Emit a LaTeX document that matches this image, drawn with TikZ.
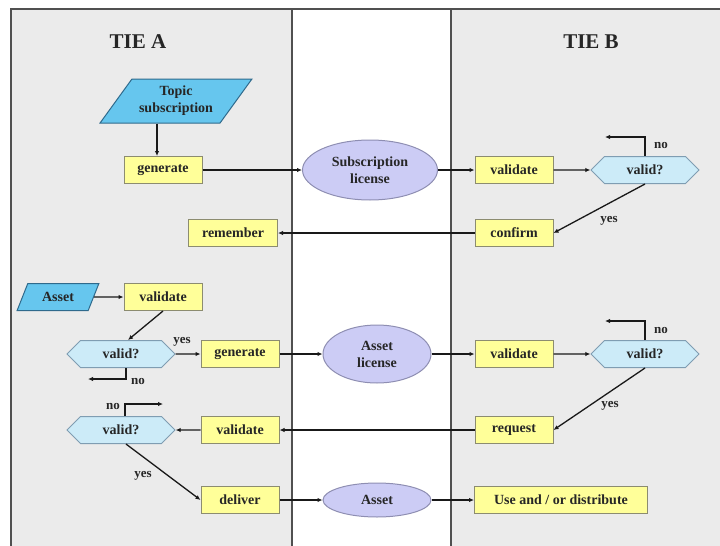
\documentclass[tikz,border=0pt]{standalone}
\usepackage{fontspec}
\setmainfont{Liberation Serif}
\usetikzlibrary{shapes.geometric,shapes.symbols,arrows.meta}
\definecolor{lanebg}{HTML}{EBEBEB}
\definecolor{laneline}{HTML}{505050}
\definecolor{boxfill}{HTML}{FFFF99}
\definecolor{boxline}{HTML}{8C8C70}
\definecolor{hexfill}{HTML}{CCEBF8}
\definecolor{hexline}{HTML}{7F9DB2}
\definecolor{datafill}{HTML}{66C6EE}
\definecolor{dataline}{HTML}{2F6A8C}
\definecolor{licfill}{HTML}{CCCCF5}
\definecolor{licline}{HTML}{8E8EB2}
\tikzset{
  txt/.style={font=\fontsize{14}{17}\selectfont\bfseries, text=black!85, align=center},
  title/.style={font=\fontsize{21}{24}\selectfont\bfseries, text=black!85},
  lbl/.style={font=\fontsize{13}{15}\selectfont\bfseries, text=black!85},
  proc/.style={txt, draw=boxline, fill=boxfill, line width=1pt, minimum width=78pt, minimum height=27pt, inner xsep=6pt, inner ysep=0pt},
  decide/.style={txt, signal, signal to=west and east, signal pointer angle=90, draw=hexline, fill=hexfill, line width=1pt, minimum width=108pt, minimum height=27pt, inner sep=0pt},
  inputbox/.style={txt, trapezium, trapezium stretches=true, draw=dataline, fill=datafill, line width=1pt, inner sep=0pt},
  token/.style={txt, ellipse, draw=licline, fill=licfill, line width=1pt, inner sep=0pt},
  flow/.style={draw=black!90, line width=1.3pt, -{Latex[length=5pt,width=4.5pt]}},
  lane/.style={draw=laneline, line width=1.2pt}
}
\begin{document}
\begin{tikzpicture}[x=1pt,y=-1pt]
  \useasboundingbox (0,0) rectangle (720,546);
  % swim lanes
  \fill[lanebg] (11,9) rectangle (292,546);
  \fill[lanebg] (451,9) rectangle (720,546);
  \draw[lane] (11,546) -- (11,9) -- (720,9);
  \draw[lane] (292,9) -- (292,546);
  \draw[lane] (451,9) -- (451,546);

  \node[title] (tieA) at (138,42) {TIE A};
  \node[title] (tieB) at (591,42) {TIE B};

  % subscription
  \node[inputbox, trapezium left angle=48, trapezium right angle=132, minimum width=152pt, minimum height=44pt] (topic) at (176,101) {Topic\\subscription};
  \node[proc] (genS) at (163,170) {generate};
  \node[token, minimum width=135pt, minimum height=60pt] (subLic) at (370,170) {Subscription\\license};
  \node[proc] (valS) at (514,170) {validate};
  \node[decide] (chkS) at (645,170) {valid?};
  \node[proc] (confirm) at (514,233) {confirm};
  \node[proc, minimum width=89pt] (remember) at (233,233) {remember};

  % asset
  \node[inputbox, trapezium left angle=59, trapezium right angle=121, minimum width=82pt, minimum height=27pt] (asset) at (58,297) {Asset};
  \node[proc] (valA) at (163,297) {validate};
  \node[decide] (chkA) at (121,354) {valid?};
  \node[proc] (genA) at (240,354) {generate};
  \node[token, minimum width=108pt, minimum height=58pt] (assetLic) at (377,354) {Asset\\license};
  \node[proc] (valB) at (514,354) {validate};
  \node[decide] (chkB) at (645,354) {valid?};
  \node[proc] (request) at (514,430) {request};
  \node[proc] (valD) at (240,430) {validate};
  \node[decide] (chkD) at (121,430) {valid?};
  \node[proc] (deliver) at (240,500) {deliver};
  \node[token, minimum width=108pt, minimum height=34pt] (assetOut) at (377,500) {Asset};
  \node[proc, minimum width=173pt] (use) at (561,500) {Use and / or distribute};

  \node[lbl] (noS) at (661,145) {no};
  \node[lbl] (yesS) at (609,221) {yes};
  \node[lbl] (yesA) at (182,342) {yes};
  \node[lbl] (noA) at (138,381) {no};
  \node[lbl] (noB) at (661,330) {no};
  \node[lbl] (yesB) at (610,406) {yes};
  \node[lbl] (noD) at (113,406) {no};
  \node[lbl] (yesD) at (143,476) {yes};

  \coordinate (noSend) at (605,137);
  \coordinate (noAend) at (88,379);
  \coordinate (noBend) at (605,321);
  \coordinate (noDend) at (163,404);

  \draw[flow] ([xshift=-6pt]genS.north |- topic.south) -- ([xshift=-6pt]genS.north);
  \draw[flow] (genS) -- (subLic);
  \draw[flow] (subLic) -- (valS);
  \draw[flow] (valS) -- (chkS);
  \draw[flow] (chkS.north) |- (noSend);
  \draw[flow] (chkS.south) -- (confirm.east);
  \draw[flow] (confirm) -- (remember);

  \draw[flow] (asset) -- (valA);
  \draw[flow] (valA.south) -- ([xshift=7pt]chkA.north);
  \draw[flow] (chkA) -- (genA);
  \draw[flow] ([xshift=5pt]chkA.south) |- (noAend);
  \draw[flow] (genA) -- (assetLic);
  \draw[flow] (assetLic) -- (valB);
  \draw[flow] (valB) -- (chkB);
  \draw[flow] (chkB.north) |- (noBend);
  \draw[flow] (chkB.south) -- (request.east);
  \draw[flow] (request) -- (valD);
  \draw[flow] (valD) -- (chkD);
  \draw[flow] ([xshift=4pt]chkD.north) |- (noDend);
  \draw[flow] ([xshift=5pt]chkD.south) -- (deliver.west);
  \draw[flow] (deliver) -- (assetOut);
  \draw[flow] (assetOut) -- (use);
\end{tikzpicture}
\end{document}
